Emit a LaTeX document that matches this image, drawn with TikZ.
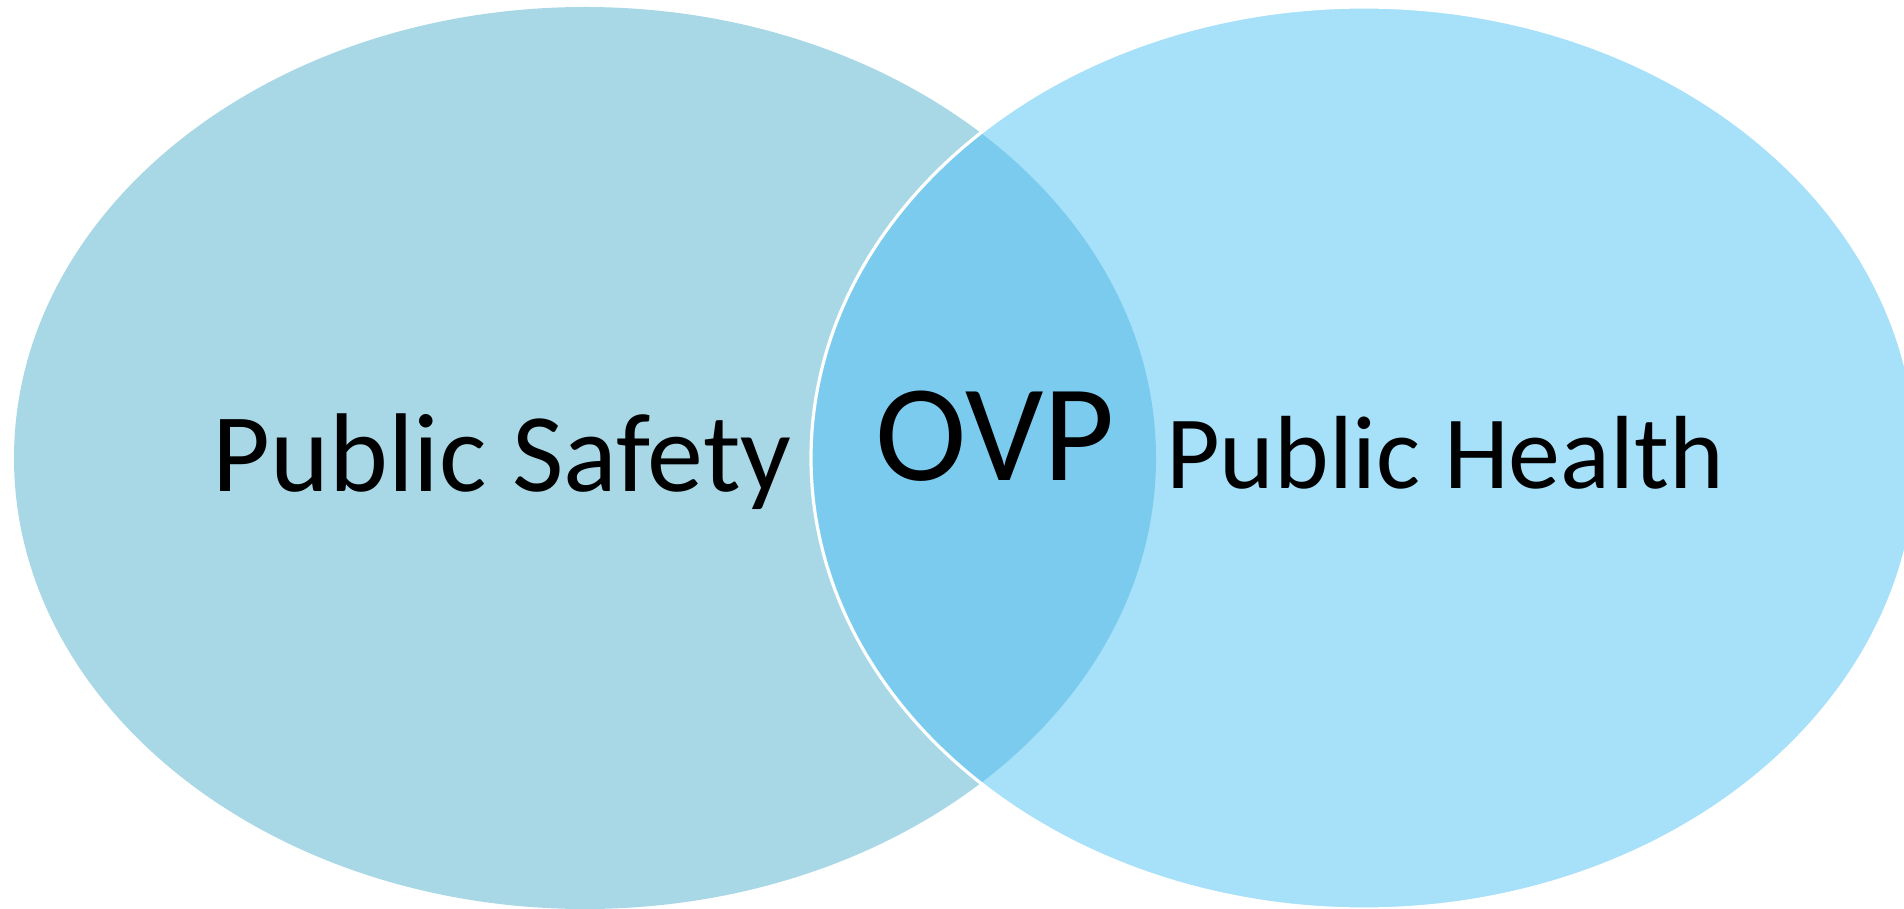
\documentclass[tikz,border=0pt]{standalone}
\usepackage{fontspec}
\setmainfont{Carlito}
\definecolor{safetyc}{HTML}{A8D8E6}
\definecolor{healthc}{HTML}{A7E0F9}
\definecolor{overlapc}{HTML}{7BCBEE}
\begin{document}
\begin{tikzpicture}[x=0.5pt,y=-0.5pt,
  label/.style={inner sep=0pt, anchor=base, text=black}]
\useasboundingbox (0,0) rectangle (1904,909);
\clip (0,0) rectangle (1904,909);
\coordinate (lc) at (585,458);
\coordinate (rc) at (1364,458);
\fill[safetyc] (lc) ellipse [x radius=571, y radius=451];
\fill[healthc] (rc) ellipse [x radius=553, y radius=451];
\begin{scope}
  \clip (lc) ellipse [x radius=571, y radius=451];
  \fill[overlapc] (rc) ellipse [x radius=553, y radius=451];
\end{scope}
\draw[white, line width=1.6pt] (rc) ellipse [x radius=553, y radius=451];
\node[label, font=\fontsize{56}{67}\selectfont] (ps) at (502,491) {Public Safety};
\node[label, font=\fontsize{69}{83}\selectfont] (ovp) at (995,480) {OVP};
\node[label, font=\fontsize{52}{62}\selectfont] (ph) at (1445,488) {Public Health};
\end{tikzpicture}
\end{document}
